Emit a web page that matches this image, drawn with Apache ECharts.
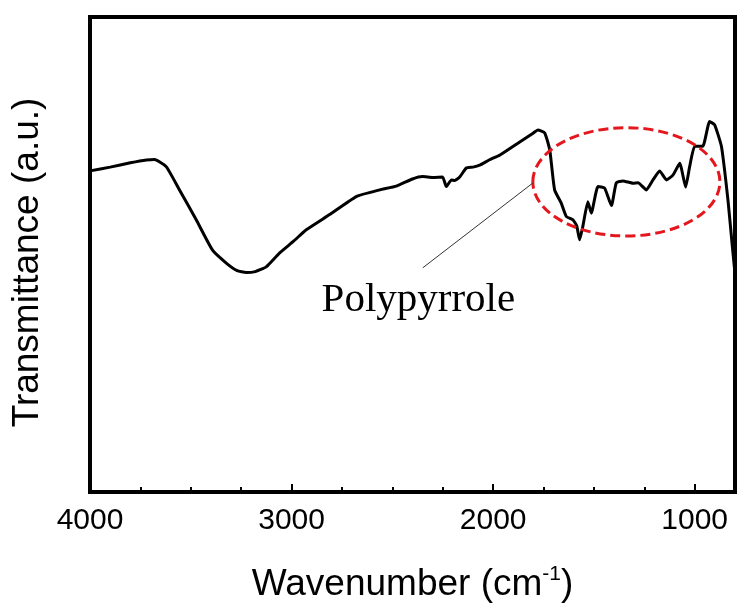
<!DOCTYPE html>
<html>
<head>
<meta charset="utf-8">
<script src="https://cdn.jsdelivr.net/npm/echarts@6/dist/echarts.min.js"></script>
<style>
html,body{margin:0;padding:0;background:#fff;}
#chart{width:754px;height:604px;}
</style>
</head>
<body>
<div id="chart"></div>
<script>
// Wavenumber (cm-1)
var wavenumbers = [4000, 3900, 3800, 3720, 3680, 3622, 3556, 3473, 3392, 3324, 3270, 3225, 3180, 3126, 3060, 2990, 2927, 2811, 2679, 2563, 2480, 2400, 2350, 2300, 2251, 2232, 2207, 2190, 2166, 2133, 2100, 2067, 2020, 1968, 1868, 1800, 1778, 1744, 1719, 1695, 1662, 1637, 1604, 1585, 1571, 1555, 1530, 1513, 1480, 1447, 1413, 1389, 1356, 1306, 1281, 1240, 1207, 1174, 1140, 1108, 1074, 1045, 1025, 1000, 960, 926, 901, 867, 835, 813, 800];
// Transmittance (a.u.)
var transmittance = [67.6, 68.4, 69.3, 69.9, 70.0, 68.5, 63.6, 57.3, 50.9, 48.2, 46.6, 46.2, 46.4, 47.4, 50.3, 52.8, 55.2, 58.4, 62.2, 63.6, 64.4, 65.9, 66.4, 66.2, 66.3, 64.3, 65.7, 65.6, 66.3, 68.2, 68.4, 68.8, 69.9, 70.9, 73.7, 75.6, 76.2, 75.6, 72.0, 63.6, 60.8, 58.0, 57.3, 56.0, 53.1, 55.9, 61.1, 58.7, 64.3, 64.0, 60.3, 65.1, 65.5, 65.0, 65.1, 63.6, 65.7, 67.6, 65.7, 66.7, 69.2, 64.2, 68.5, 72.8, 72.8, 78.0, 77.3, 72.7, 61.5, 51.6, 46.0];
var majorTicks = [4000, 3000, 2000, 1000];
var minorTicks = [3750, 3500, 3250, 2750, 2500, 2250, 1750, 1500, 1250];
var annotationLabel = 'Polypyrrole';

var seriesData = wavenumbers.map(function (w, i) { return [w, transmittance[i]]; });

var chart = echarts.init(document.getElementById('chart'), null, {renderer: 'canvas'});
var sans = '"Liberation Sans", Arial, sans-serif';
var option = {
  animation: false,
  backgroundColor: '#fff',
  grid: {left: 90, right: 19, top: 17, bottom: 112, show: true, borderColor: '#000', borderWidth: 4,
    backgroundColor: 'transparent', outerBoundsMode: 'none', containLabel: false},
  xAxis: [{
    type: 'value', inverse: true, min: 800, max: 4000,
    axisLine: {show: false},
    splitLine: {show: false},
    axisTick: {show: true, inside: true, length: 8, lineStyle: {color: '#000', width: 2}, customValues: majorTicks},
    axisLabel: {show: true, customValues: majorTicks, color: '#000', fontSize: 30, fontFamily: sans, margin: 14,
      formatter: function (v) { return String(v); }},
    name: '{a|Wavenumber (cm}{s|-1}{a|)}',
    nameLocation: 'middle', nameGap: 72,
    nameTextStyle: {
      rich: {
        a: {fontSize: 37, fontFamily: sans, color: '#000', lineHeight: 42},
        s: {fontSize: 21, fontFamily: sans, color: '#000', verticalAlign: 'top', lineHeight: 22}
      }
    }
  }, {
    type: 'value', inverse: true, min: 800, max: 4000, position: 'bottom',
    axisLine: {show: false}, splitLine: {show: false},
    axisTick: {show: true, inside: true, length: 5, lineStyle: {color: '#000', width: 2}, customValues: minorTicks},
    axisLabel: {show: false}
  }],
  yAxis: {
    type: 'value', min: 0, max: 100,
    axisLine: {show: false}, axisTick: {show: false}, axisLabel: {show: false}, splitLine: {show: false},
    name: 'Transmittance (a.u.)', nameLocation: 'middle', nameGap: 44,
    nameTextStyle: {fontSize: 37, fontFamily: sans, color: '#000', padding: [0, 16, 0, 0]}
  },
  series: [{
    type: 'line', xAxisIndex: 0, data: seriesData, showSymbol: false, smooth: 0.15,
    lineStyle: {color: '#000', width: 3}, z: 3
  }]
};
chart.setOption(option);

function px(w, v) { return chart.convertToPixel({xAxisIndex: 0, yAxisIndex: 0}, [w, v]); }
var c = px(1339, 65.3);
var e1 = px(1339 + 464, 65.3);
var e2 = px(1339, 65.3 + 11.4);
var l1 = px(1803, 65.05);
var l2 = px(2349, 47.2);
var t = px(2851, 40.4);
chart.setOption({
  graphic: [
    {type: 'ellipse', shape: {cx: c[0], cy: c[1], rx: Math.abs(e1[0] - c[0]), ry: Math.abs(c[1] - e2[1])},
     style: {fill: 'none', stroke: '#e3171d', lineWidth: 3, lineDash: [10, 5]}, z: 10},
    {type: 'line', shape: {x1: l1[0], y1: l1[1], x2: l2[0], y2: l2[1]}, style: {stroke: '#333', lineWidth: 1}, z: 10},
    {type: 'text', x: t[0], y: t[1], style: {text: annotationLabel, font: '41px "Liberation Serif", "Times New Roman", serif', fill: '#000', align: 'left', verticalAlign: 'middle'}, z: 10}
  ]
});
</script>
</body>
</html>
